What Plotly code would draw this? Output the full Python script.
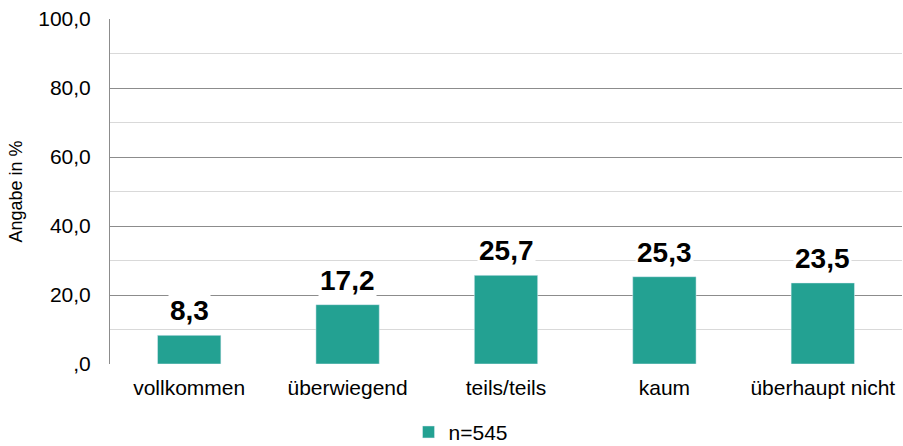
import plotly.graph_objects as go

categories = ["vollkommen", "überwiegend", "teils/teils", "kaum", "überhaupt nicht"]
values = [8.3, 17.2, 25.7, 25.3, 23.5]
series_name = "n=545"
tick_vals = [0, 20, 40, 60, 80, 100]
tick_text = [",0", "20,0", "40,0", "60,0", "80,0", "100,0"]

BAR_COLOR = "#23A192"
FONT = "Liberation Sans, Arial, sans-serif"

fig = go.Figure()
fig.add_trace(go.Bar(
    x=categories,
    y=values,
    name=series_name,
    marker=dict(color=BAR_COLOR),
    showlegend=True,
    hoverinfo="skip",
))

# value labels with white boxes over the gridlines
for cat, v in zip(categories, values):
    fig.add_annotation(
        x=cat, y=v, text=f"<b>{v:.1f}</b>".replace(".", ","),
        showarrow=False, yanchor="bottom", yshift=7,
        font=dict(size=28, color="black", family=FONT),
        bgcolor="white", borderpad=1,
    )

fig.update_layout(
    width=903, height=446,
    margin=dict(l=110, r=1, t=19, b=82, autoexpand=False),
    paper_bgcolor="white",
    plot_bgcolor="white",
    bargap=0.6,
    font=dict(family=FONT, size=21, color="black"),
    legend=dict(
        orientation="h", xref="container", x=0.51, xanchor="center",
        y=-0.198, yanchor="middle",
        font=dict(size=21), itemwidth=30,
    ),
)

fig.update_xaxes(
    showgrid=False, showline=False, ticks="",
    tickfont=dict(size=21),
    ticklabelstandoff=9,
    automargin=False,
)

fig.update_yaxes(
    range=[0, 100],
    tickmode="array", tickvals=tick_vals, ticktext=tick_text,
    showgrid=True, gridcolor="#8c8c8c", gridwidth=1,
    minor=dict(dtick=10, showgrid=True, gridcolor="#d9d9d9"),
    showline=True, linecolor="#8c8c8c", linewidth=1,
    zeroline=False,
    ticks="", ticklen=0,
    tickfont=dict(size=21),
    ticklabelstandoff=14,
    title=dict(text="Angabe in %", font=dict(size=18), standoff=10),
    automargin=False,
)

# drop the default 8px page margin so the figure sits flush in the window
fig.write_html(
    "out.html",
    config={"displayModeBar": False},
    post_script="document.body.style.margin='0';",
)
